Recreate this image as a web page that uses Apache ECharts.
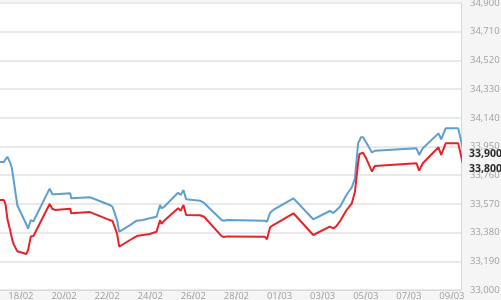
<!DOCTYPE html>
<html><head><meta charset="utf-8">
<script src="https://cdn.jsdelivr.net/npm/echarts@6/dist/echarts.min.js"></script>
<style>html,body{margin:0;padding:0;background:#f5f5f5;}#c{width:501px;height:300px;}</style>
</head><body><div id="c"></div>
<script>
// Sample times (DD/MM HH:MM, 2020)
const times = ['16/02 21:00','17/02 05:00','17/02 07:00','17/02 09:00','17/02 12:00','17/02 14:00','17/02 16:00','17/02 20:00',
'18/02 06:00','18/02 08:00','18/02 11:00','18/02 14:00','19/02 08:00','19/02 11:00','19/02 14:00','20/02 07:00','20/02 08:00',
'21/02 05:00','22/02 03:00','22/02 06:00','22/02 11:00','22/02 13:30','22/02 16:30','23/02 01:30','23/02 09:00','23/02 16:00',
'23/02 23:30','24/02 07:00','24/02 11:00','24/02 12:30','24/02 15:30','25/02 07:00','25/02 10:00','25/02 13:00','25/02 16:00',
'26/02 07:30','26/02 12:00','26/02 14:00','27/02 07:30','27/02 10:00','27/02 13:30','29/02 07:30','29/02 10:00','29/02 13:30',
'29/02 17:00','01/03 15:30','02/03 13:30','03/03 08:00','03/03 12:00','03/03 15:30','03/03 19:30','04/03 02:30','04/03 08:30',
'04/03 12:00','04/03 15:30','04/03 17:00','04/03 18:30','04/03 21:00','05/03 01:00','05/03 07:00','05/03 10:00','07/03 08:30',
'07/03 11:30','07/03 15:30','08/03 09:00','08/03 12:00','08/03 17:00','09/03 07:00','09/03 13:30'];
const blueValues = [33847,33847,33867,33882,33843,33806,33794,33561,33435,33406,33463,33455,33671,33634,33634,33640,33607,
33614,33563,33551,33463,33386,33397,33430,33459,33463,33475,33485,33563,33541,33551,33644,33629,33662,33600,33591,33576,33569,
33463,33459,33463,33459,33452,33512,33530,33607,33468,33523,33510,33530,33553,33629,33680,33739,33971,33988,34011,34011,33971,
33910,33922,33938,33894,33938,34037,33998,34070,34070,33900];
const redValues = [33596,33596,33563,33468,33397,33340,33302,33256,33238,33265,33354,33357,33569,33538,33530,33538,33508,
33516,33463,33457,33375,33287,33298,33331,33357,33364,33371,33386,33463,33437,33459,33541,33525,33563,33497,33495,33485,33477,
33357,33351,33355,33353,33336,33415,33430,33508,33364,33419,33408,33424,33457,33528,33574,33651,33841,33900,33906,33909,33865,
33784,33821,33839,33790,33839,33945,33894,33971,33971,33800];
const xTickLabels = ['18/02','20/02','22/02','24/02','26/02','28/02','01/03','03/03','05/03','07/03','09/03'];
const yMin = 33000, yMax = 34900, yStep = 190;
const lastMarks = [33900, 33800];

function dayNum(s){ // day index: Feb d -> d, Mar d -> 29 + d
  const [dm, hm] = s.split(' ');
  const [d, m] = dm.split('/').map(Number);
  let v = (m === 2 ? d : 29 + d);
  if (hm) { const [h, mi] = hm.split(':').map(Number); v += (h + mi/60)/24; }
  return v;
}
function dayLabel(v){
  const r = Math.round(v);
  const d = r <= 29 ? r : r - 29, m = r <= 29 ? '02' : '03';
  return (d < 10 ? '0' : '') + d + '/' + m;
}
const fmt = v => String(v).replace(/\B(?=(\d{3})+(?!\d))/g, ',');
const tickVals = xTickLabels.map(dayNum);
const blueData = times.map((t,i)=>[dayNum(t), blueValues[i]]);
const redData = times.map((t,i)=>[dayNum(t), redValues[i]]);

const chart = echarts.init(document.getElementById('c'), null, {renderer:'canvas'});
chart.setOption({
  animation:false,
  backgroundColor:'#f5f5f5',
  grid:{left:0,right:40,top:3,bottom:10,containLabel:false,outerBoundsMode:'none',show:true,backgroundColor:'#ffffff',borderWidth:0},
  xAxis:{type:'value',min:17.03,max:38.42,
    axisLine:{show:true,lineStyle:{color:'#d8d8d8',width:1}},
    axisTick:{show:true,customValues:tickVals,length:11,inside:false,lineStyle:{color:'#dcdcdc'}},
    axisLabel:{customValues:tickVals,formatter:dayLabel,color:'#a0a0a0',fontSize:9.5,fontFamily:'Open Sans',margin:1,showMinLabel:true,showMaxLabel:true},
    splitLine:{show:false}},
  yAxis:[
    {type:'value',position:'right',min:yMin,max:yMax,interval:yStep,
    axisLine:{show:true,lineStyle:{color:'#d8d8d8',width:1}},
    axisTick:{show:false},
    axisLabel:{formatter:fmt,color:'#a0a0a0',fontSize:9.5,fontFamily:'Open Sans',margin:9,align:'left'},
    splitLine:{show:true,lineStyle:{color:'#e2e2e2',width:1.5}}},
    {type:'value',position:'right',min:yMin,max:yMax,
    axisLine:{show:false},axisTick:{show:false},splitLine:{show:false},
    axisLabel:{customValues:lastMarks,formatter:fmt,color:'#2a2a2a',fontWeight:'bold',fontSize:10.5,fontFamily:'Open Sans',margin:8,align:'left'}}
  ],
  series:[
    {type:'line',data:blueData,showSymbol:false,lineStyle:{color:'#5f9fcf',width:2},clip:true},
    {type:'line',data:redData,showSymbol:false,lineStyle:{color:'#e5232a',width:2},clip:true}
  ]
});
</script></body></html>
